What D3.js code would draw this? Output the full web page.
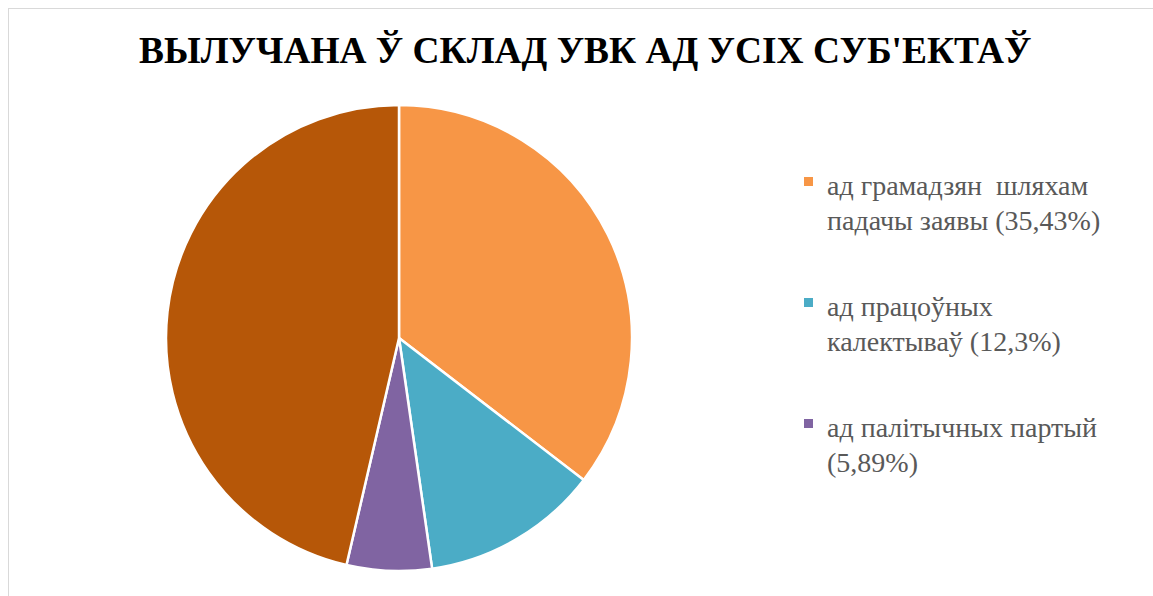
<!DOCTYPE html>
<html>
<head>
<meta charset="utf-8">
<script src="https://cdn.jsdelivr.net/npm/d3@7"></script>
<style>
  body { margin: 0; background: #fff; }
  svg { display: block; }
</style>
</head>
<body>
<svg id="chart" width="1153" height="596"></svg>
<script>
// chart data
const title = "ВЫЛУЧАНА Ў СКЛАД УВК АД УСІХ СУБ'ЕКТАЎ";
const categories = [
    ["ад грамадзян\u00A0 шляхам", "падачы заявы (35,43%)"],
    ["ад працоўных", "калектываў (12,3%)"],
    ["ад палітычных партый", "(5,89%)"],
    null   // 4th slice has no legend entry in the picture
];
const values = [35.43, 12.3, 5.89, 46.38];
const colors = ["#F79646", "#4BACC6", "#8064A2", "#B65708"];

const svg = d3.select("#chart");

// chart area border, only its top/left edges fall inside the picture
svg.append("rect")
    .attr("x", 8.5).attr("y", 8.5)
    .attr("width", 1200).attr("height", 700)
    .attr("fill", "none")
    .attr("stroke", "#d9d9d9");

// title - squeezed a bit horizontally like the original
let titleText = svg.append("text")
    .attr("x", 0).attr("y", 0)
    .attr("font-family", "Liberation Serif")
    .attr("font-weight", "bold")
    .attr("font-size", 38)
    .attr("fill", "#000")
    .text(title);
let tw = titleText.node().getComputedTextLength() || 893;
titleText.attr("transform", `translate(139,63) scale(${893 / tw},1)`);

// pie
const cx = 399, cy = 338, r = 233;
const pie = d3.pie().sort(null).value(d => d);
const arc = d3.arc().innerRadius(0).outerRadius(r);

svg.append("g")
    .attr("transform", `translate(${cx},${cy})`)
    .selectAll("path")
    .data(pie(values))
    .enter().append("path")
    .attr("d", arc)
    .attr("fill", (d, i) => colors[i])
    .attr("stroke", "#fff")
    .attr("stroke-width", 2.5)
    .attr("stroke-linejoin", "round");

// legend
const legendY = d3.scaleLinear().domain([0, 1]).range([195, 316]);
const legend = svg.append("g");
categories.forEach(function(lines, i) {
    if (!lines) return;
    let y0 = legendY(i);
    legend.append("rect")
        .attr("x", 804).attr("y", y0 - 18)
        .attr("width", 9).attr("height", 9)
        .attr("fill", colors[i]);
    lines.forEach(function(line, j) {
        legend.append("text")
            .attr("x", 827)
            .attr("y", y0 + j * 35)
            .attr("font-family", "Liberation Serif")
            .attr("font-size", 28)
            .attr("fill", "#595959")
            .text(line);
    });
});
</script>
</body>
</html>
